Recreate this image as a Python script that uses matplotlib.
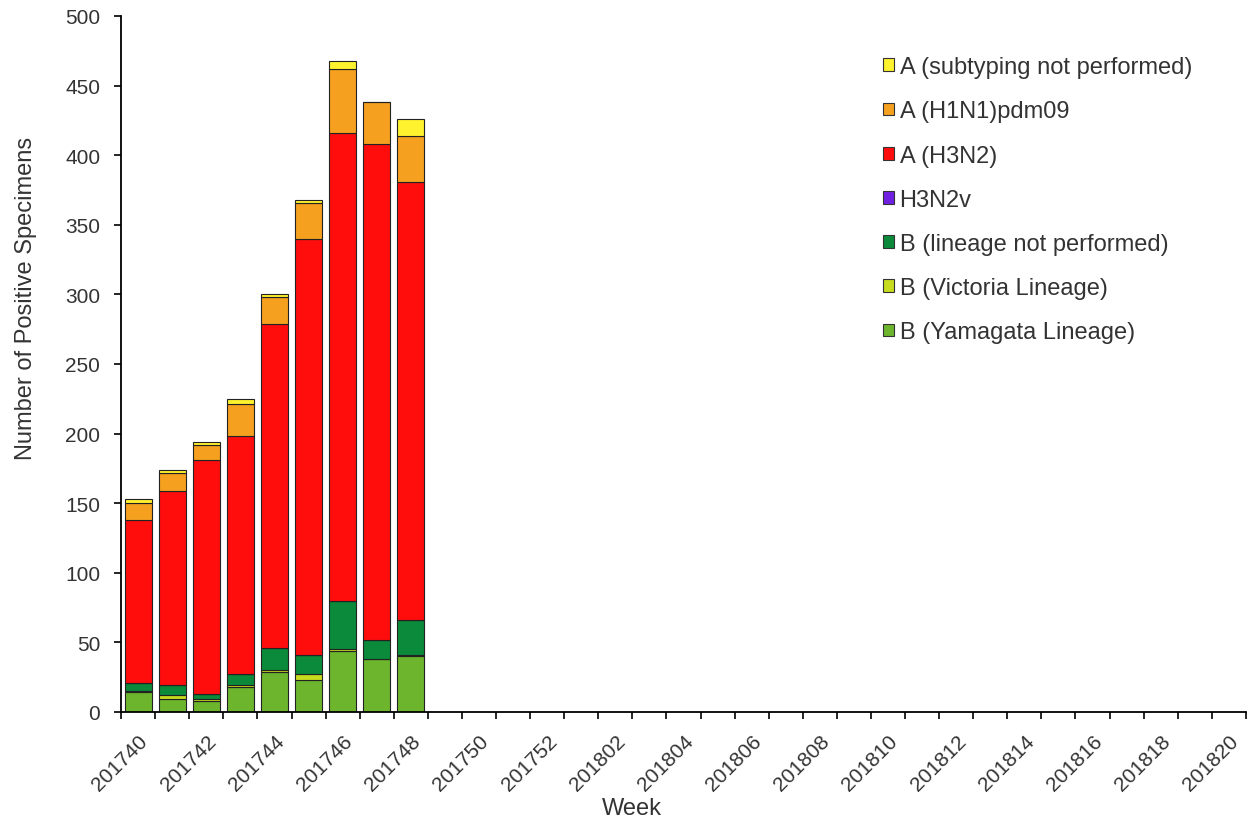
import numpy as np
import matplotlib
matplotlib.use("Agg")
from matplotlib import pyplot as plt
from matplotlib.patches import Patch

plt.rcParams['font.family'] = ['Liberation Sans', 'DejaVu Sans']

# all weeks of the season shown on the x axis
weeks = ["2017%02d" % w for w in range(40, 53)] + ["2018%02d" % w for w in range(1, 21)]

# weeks that have data so far: 201740 .. 201748
yamagata   = [14,  9,   8,  18,  29,  23,  44,  38,  40]
victoria   = [1,   3,   1,   1,   1,   4,   1,   0,   1]
b_lineage  = [6,   7,   4,   8,  16,  14,  35,  14,  25]
h3n2v      = [0,   0,   0,   0,   0,   0,   0,   0,   0]
h3n2       = [117, 140, 168, 171, 233, 299, 336, 356, 315]
h1n1pdm09  = [12,  13,  11,  23,  19,  26,  46,  30,  33]
a_subtyp   = [3,   2,   2,   4,   2,   2,   6,   0,  12]

series = [
    ("B (Yamagata Lineage)", yamagata, "#6CB52D"),
    ("B (Victoria Lineage)", victoria, "#C8DC1E"),
    ("B (lineage not performed)", b_lineage, "#0A8A3A"),
    ("H3N2v", h3n2v, "#7020E0"),
    ("A (H3N2)", h3n2, "#FF0D0D"),
    ("A (H1N1)pdm09", h1n1pdm09, "#F5A01E"),
    ("A (subtyping not performed)", a_subtyp, "#FFF22E"),
]

fig = plt.figure(figsize=(12.49, 8.29), dpi=100)
ax = fig.add_axes([0.097, 0.140, 0.9005, 0.8395])

x = np.arange(len(yamagata))
bottom = np.zeros(len(x))
handles = []
for name, vals, col in series:
    vals = np.asarray(vals, dtype=float)
    ax.bar(x, vals, width=0.8, bottom=bottom, color=col,
           edgecolor="#222222", linewidth=0.8)
    bottom += vals
    handles.append(Patch(facecolor=col, edgecolor="#333333", linewidth=0.8, label=name))

ax.set_xlim(-0.5, len(weeks) - 0.5)
ax.set_ylim(0, 500)
ax.set_yticks(np.arange(0, 501, 50))
ax.tick_params(axis='y', labelsize=15, length=5, width=1.2, direction='out', pad=10,
               labelcolor="#333333")

# labels every second week, tick marks on category boundaries
ax.set_xticks(np.arange(0, len(weeks), 2))
ax.set_xticklabels(weeks[::2], rotation=45, ha='right', rotation_mode='anchor')
ax.set_xticks(np.arange(-0.5, len(weeks), 1), minor=True)
ax.tick_params(axis='x', which='major', length=0, labelsize=15, pad=14, labelcolor="#333333")
ax.tick_params(axis='x', which='minor', length=5, width=1.2, direction='out')

for s in ['top', 'right']:
    ax.spines[s].set_visible(False)
for s in ['left', 'bottom']:
    ax.spines[s].set_linewidth(1.3)

ax.set_xlabel("Week", fontsize=17, color="#333333")
ax.xaxis.set_label_coords(0.454, -0.122)
ax.set_ylabel("Number of Positive Specimens", fontsize=17, color="#333333")
ax.yaxis.set_label_coords(-0.075, 0.595)

leg = ax.legend(handles=handles[::-1], loc='upper left', bbox_to_anchor=(0.707, 0.931),
                bbox_transform=fig.transFigure, frameon=False, fontsize=17,
                handlelength=0.45, handleheight=0.45, handletextpad=0.25,
                labelspacing=0.94, borderaxespad=0, borderpad=0)
for t in leg.get_texts():
    t.set_color("#333333")

fig.savefig("out.png", dpi=100)
